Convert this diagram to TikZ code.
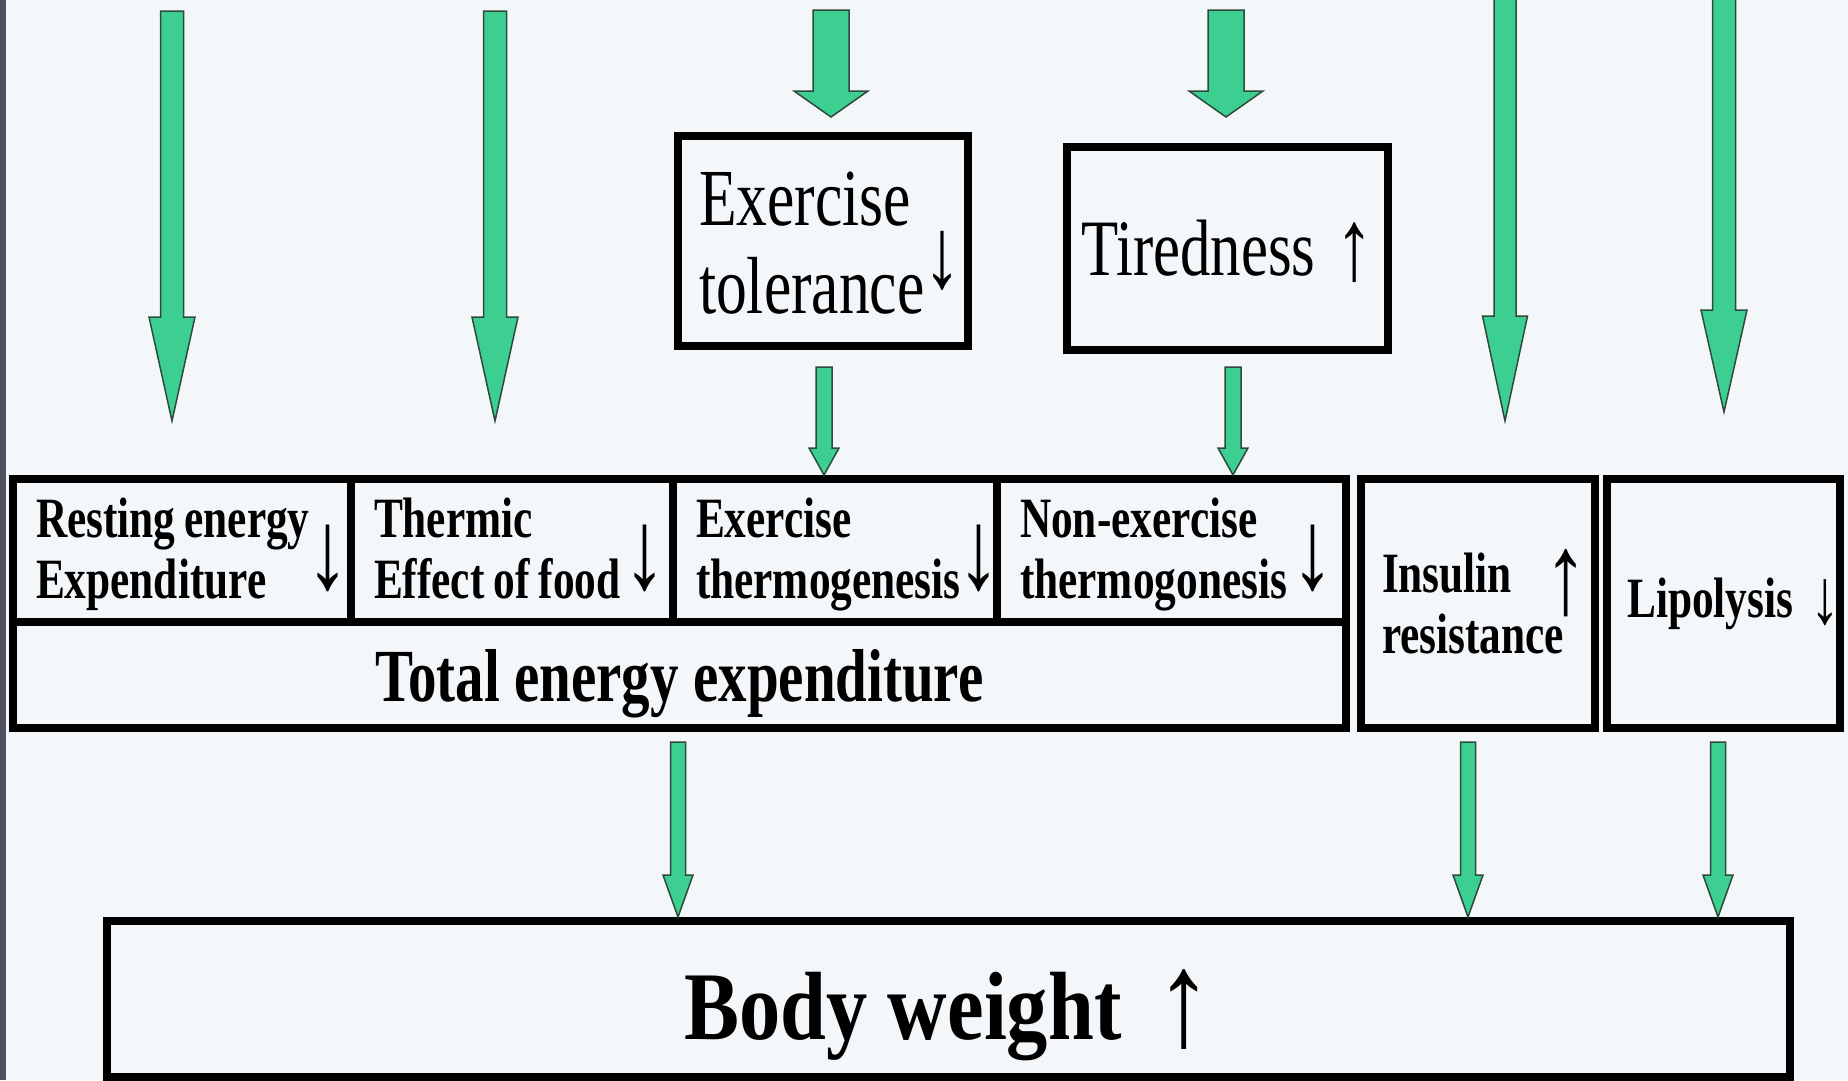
\documentclass[tikz,border=0pt]{standalone}
\usepackage{fontspec}
\setmainfont{Liberation Serif}[FakeStretch=0.76]
\newfontfamily\widefont{Liberation Serif}[FakeStretch=0.85]
\usepackage{xcolor}
\usetikzlibrary{positioning,calc}
\definecolor{slidebg}{RGB}{244,247,250}
\definecolor{slideedge}{RGB}{78,80,96}
\definecolor{arrowgreen}{RGB}{60,207,145}
\definecolor{arrowline}{RGB}{45,75,60}
\newcommand{\cellfont}{\fontsize{57}{61}\selectfont\bfseries}
\newcommand{\arrowsize}[1]{\fontsize{#1}{#1}\selectfont\mdseries}
\newcommand{\lowered}[2]{\raisebox{-#1}[\height][\depth]{#2}}
\newcommand{\tight}{\spaceskip=9pt\relax}
\newcommand{\twoline}[2]{\begin{tabular}{@{}l@{}}\tight #1\\\tight #2\end{tabular}}
\newcommand{\cellbox}[4]{\hspace*{11pt}\lowered{5pt}{\twoline{#1}{#2}}\hfill\llap{\smash{\raisebox{-32pt}{\arrowsize{113}#3}}\kern-#4}}
\newcommand{\fatarrow}[5]{\filldraw[arrowbody] ($(#1)+(-#3,0)$) -- ($(#2)+(-#3,-#5)$) -- ($(#2)+(-#4,-#5)$) -- (#2) -- ($(#2)+(#4,-#5)$) -- ($(#2)+(#3,-#5)$) -- ($(#1)+(#3,0)$) -- cycle;}

\begin{document}
\begin{tikzpicture}[x=1pt, y=-1pt]
        % Styles
        \tikzstyle{panel} = [rectangle, draw, line width=8pt, outer sep=0pt, inner sep=0pt]
        \tikzstyle{tablecell} = [panel, minimum height=143pt, font=\cellfont]
        \tikzstyle{sidebox} = [panel, minimum width=234pt, minimum height=249pt, font=\cellfont]
        \tikzstyle{arrowbody} = [fill=arrowgreen, draw=arrowline, line width=1.5pt, line join=miter]

        \useasboundingbox (0,0) rectangle (1848,1080);
        \fill [slidebg] (0,0) rectangle (1848,1080);
        \fill [slideedge] (0,0) rectangle (6,1080);

        % Nodes
        \node [panel, minimum width=290pt, minimum height=210pt, text width=270pt, font=\fontsize{81}{88}\selectfont] (extol) at (823,241) {\hspace*{11pt}\lowered{11pt}{\twoline{Exercise}{tolerance}}\hfill\llap{\smash{\raisebox{-40pt}{\arrowsize{100}↓}}\kern-3pt}};
        \node [panel, minimum width=321pt, minimum height=203pt, font=\fontsize{80}{86}\selectfont] (tired) at (1227.5,248.5) {Tiredness\hspace{20pt}\smash{\raisebox{-4pt}{\arrowsize{101}↑}}};

        \node [tablecell, minimum width=338pt, text width=314pt] (resting) at (182,550.5) {\cellbox{Resting energy}{Expenditure}{↓}{10pt}};
        \node [tablecell, minimum width=322pt, text width=298pt, right=0pt of resting] (thermic) {\cellbox{Thermic}{Effect of food}{↓}{5pt}};
        \node [tablecell, minimum width=324pt, text width=300pt, right=0pt of thermic] (extherm) {\cellbox{Exercise}{thermogenesis}{↓}{15pt}};
        \node [tablecell, minimum width=349pt, text width=325pt, right=0pt of extherm] (nonex) {\cellbox{Non-exercise}{thermogonesis}{↓}{0pt}};
        \node [panel, minimum width=1333pt, minimum height=106pt, anchor=north west, font=\fontsize{75}{80}\selectfont\bfseries] (total) at (resting.south west) {\lowered{9pt}{Total energy expenditure}};

        \node [sidebox, text width=192pt, align=left] (insulin) at (1478,603.5) {Insulin\hfill\smash{\raisebox{-21pt}{\arrowsize{114}↑}}\kern-14pt\\resistance};
        \node [sidebox, minimum width=233pt, right=12pt of insulin] (lipo) {\hspace*{20pt}Lipolysis\hspace{17pt}\smash{\raisebox{-6pt}{\arrowsize{78}↓}}};

        \node [panel, minimum width=1683pt, minimum height=156pt, font=\widefont\fontsize{97}{100}\selectfont\bfseries] (body) at (948.5,999) {\lowered{18pt}{Body weight\hspace{34pt}\smash{\raisebox{-6pt}{\arrowsize{135}↑}}}};

        % Edges
        \coordinate (s1) at (172,11);
        \coordinate (s2) at (495,11);
        \coordinate (s3) at (831,10);
        \coordinate (s4) at (1226,10);
        \coordinate (s5) at (1505,-4);
        \coordinate (s6) at (1724,-4);
        \coordinate (h1) at ($(resting.north)+(-10,-58)$);
        \coordinate (h2) at ($(thermic.north)+(-17,-58)$);
        \coordinate (h3) at ($(extol.north)+(8,-19)$);
        \coordinate (h4) at ($(tired.north)+(-1.5,-30)$);
        \coordinate (h5) at ($(insulin.north)+(27,-58)$);
        \coordinate (h6) at ($(lipo.north)+(0.5,-67)$);
        \fatarrow{s1}{h1}{11.5}{23}{104}
        \fatarrow{s2}{h2}{11.5}{23}{104}
        \fatarrow{s3}{h3}{18}{37}{26}
        \fatarrow{s4}{h4}{18}{37}{26}
        \fatarrow{s5}{h5}{11}{22.5}{105}
        \fatarrow{s6}{h6}{11.5}{23}{102}

        \coordinate (m1) at ($(extol.south)+(1,21)$);
        \coordinate (m2) at ($(tired.south)+(5.5,17)$);
        \coordinate (n1) at ($(extherm.north)+(-11,-4)$);
        \coordinate (n2) at ($(nonex.north)+(61.5,-4)$);
        \fatarrow{m1}{n1}{8}{15}{27}
        \fatarrow{m2}{n2}{8}{15}{27}

        \coordinate (b1) at ($(total.south)+(-1.5,14)$);
        \coordinate (b2) at ($(insulin.south)+(-10,14)$);
        \coordinate (b3) at ($(lipo.south)+(-5.5,14)$);
        \coordinate (w1) at ($(body.north)+(-270.5,-4)$);
        \coordinate (w2) at ($(body.north)+(519.5,-4)$);
        \coordinate (w3) at ($(body.north)+(769.5,-4)$);
        \fatarrow{b1}{w1}{7.5}{15}{42}
        \fatarrow{b2}{w2}{7.5}{15}{42}
        \fatarrow{b3}{w3}{7.5}{15}{42}

\end{tikzpicture}
\end{document}
